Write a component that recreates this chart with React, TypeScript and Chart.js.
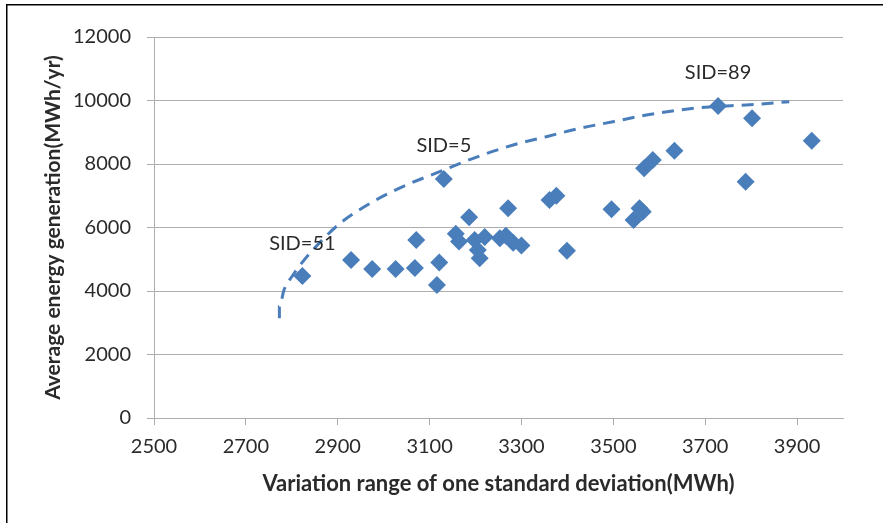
import { useEffect, useRef } from "react";
import { Chart, registerables } from "chart.js";

Chart.register(...registerables);

// Wind sites: variation range of one standard deviation (MWh) vs average generation (MWh/yr)
const sdRange = [
  2823, 2929, 2975, 3026, 3068, 3071, 3116, 3121, 3131, 3157, 3164, 3186,
  3198, 3205, 3209, 3220, 3253, 3266, 3271, 3282, 3300, 3361, 3376, 3399,
  3496, 3544, 3557, 3564, 3567, 3586, 3633, 3728, 3788, 3802, 3932,
];
const avgEnergy = [
  4470, 4976, 4693, 4693, 4724, 5606, 4189, 4900, 7528, 5800, 5560, 6320,
  5606, 5291, 5029, 5700, 5659, 5740, 6604, 5520, 5430, 6866, 7003, 5270,
  6572, 6236, 6604, 6498, 7864, 8126, 8420, 9827, 7443, 9439, 8734,
];

// Efficient frontier (dashed)
const frontierSd = [
  2773, 2773, 2783, 2800, 2821, 2847, 2905, 2977, 3050, 3122, 3195, 3282,
  3354, 3427, 3499, 3572, 3644, 3717, 3789, 3883,
];
const frontierEnergy = [
  3140, 3506, 4031, 4450, 4872, 5313, 6131, 6814, 7339, 7758, 8180, 8598,
  8860, 9124, 9332, 9543, 9701, 9806, 9858, 9962,
];

// Highlighted sites
const sidNames = ["SID=51", "SID=5", "SID=89"];
const sidSd = [2823, 3131, 3728];
const sidEnergy = [4470, 7528, 9827];

const xTickValues = [2500, 2700, 2900, 3100, 3300, 3500, 3700, 3900];
const xMin = 2500;
const xMax = 4000;
const yMin = 0;
const yMax = 12000;
const yStep = 2000;

const FONT = "Lato, 'Open Sans', sans-serif";
const BLUE = "#4A7EBB";
const GRID = "#ADADAD";
const TEXT = "#2a2a2a";

const framePlugin = {
  id: "frame",
  beforeDraw(chart: any) {
    const { ctx, width, height } = chart;
    ctx.save();
    ctx.fillStyle = "#ffffff";
    ctx.fillRect(0, 0, width, height);
    ctx.fillStyle = "#000000";
    ctx.fillRect(6, 4, width - 6, 1.5);
    ctx.fillRect(6, 4, 1.5, height - 4);
    ctx.restore();
  },
};

const sidLabelPlugin = {
  id: "sidLabels",
  afterDatasetsDraw(chart: any) {
    const { ctx, scales } = chart;
    ctx.save();
    ctx.font = `20px ${FONT}`;
    ctx.fillStyle = TEXT;
    ctx.textAlign = "center";
    ctx.textBaseline = "middle";
    sidNames.forEach((name, i) => {
      const x = scales.x.getPixelForValue(sidSd[i]);
      const y = scales.y.getPixelForValue(sidEnergy[i]);
      ctx.fillText(name, x, y - 33);
    });
    ctx.restore();
  },
};

const plainNumber = (value: number | string) => String(value);

export default function App() {
  const canvasRef = useRef<HTMLCanvasElement | null>(null);

  useEffect(() => {
    const canvas = canvasRef.current;
    if (!canvas) return;

    const chart = new Chart(canvas, {
      type: "scatter",
      data: {
        datasets: [
          {
            label: "Sites",
            data: sdRange.map((x, i) => ({ x, y: avgEnergy[i] })),
            pointStyle: "rectRot",
            pointRadius: 9,
            pointHoverRadius: 9,
            backgroundColor: BLUE,
            borderColor: BLUE,
            borderWidth: 0,
            showLine: false,
          },
          {
            label: "Frontier",
            data: frontierSd.map((x, i) => ({ x, y: frontierEnergy[i] })),
            showLine: true,
            pointRadius: 0,
            borderColor: BLUE,
            borderWidth: 3,
            borderDash: [12, 8],
            cubicInterpolationMode: "monotone",
            fill: false,
          },
        ],
      },
      options: {
        responsive: false,
        maintainAspectRatio: false,
        animation: false,
        devicePixelRatio: 1,
        layout: { padding: { left: 0, top: 37, right: 40, bottom: 0 } },
        plugins: {
          legend: { display: false },
          tooltip: { enabled: false },
          title: { display: false },
        },
        scales: {
          x: {
            type: "linear",
            min: xMin,
            max: xMax,
            afterBuildTicks: (scale: any) => {
              scale.ticks = xTickValues.map((v) => ({ value: v }));
            },
            afterFit: (scale: any) => {
              scale.height = 105;
            },
            grid: {
              drawOnChartArea: false,
              drawTicks: true,
              tickLength: 7,
              color: GRID,
              lineWidth: 1,
            },
            border: { display: true, color: GRID, width: 1 },
            ticks: {
              padding: 10,
              color: TEXT,
              font: { family: FONT, size: 20 },
              maxRotation: 0,
              autoSkip: false,
              callback: plainNumber,
            },
            title: {
              display: true,
              text: "Variation range of one standard deviation(MWh)",
              color: TEXT,
              font: { family: FONT, size: 22, weight: "bold" },
              padding: { top: 0, bottom: 26 },
            },
          },
          y: {
            type: "linear",
            min: yMin,
            max: yMax,
            ticks: {
              stepSize: yStep,
              padding: 16,
              color: TEXT,
              font: { family: FONT, size: 20 },
              callback: plainNumber,
            },
            afterFit: (scale: any) => {
              scale.width = 154;
            },
            grid: {
              drawOnChartArea: true,
              drawTicks: true,
              tickLength: 7,
              color: GRID,
              lineWidth: 1,
            },
            border: { display: true, color: GRID, width: 1 },
            title: {
              display: true,
              text: "Average energy generation(MWh/yr)",
              color: TEXT,
              font: { family: FONT, size: 21, weight: "bold" },
              padding: { top: 41, bottom: 0 },
            },
          },
        },
      } as any,
      plugins: [framePlugin, sidLabelPlugin],
    });

    return () => chart.destroy();
  }, []);

  return (
    <div
      style={{
        position: "fixed",
        left: 0,
        top: 0,
        width: 883,
        height: 523,
        background: "#ffffff",
      }}
    >
      <canvas ref={canvasRef} width={883} height={523} style={{ display: "block" }} />
    </div>
  );
}
